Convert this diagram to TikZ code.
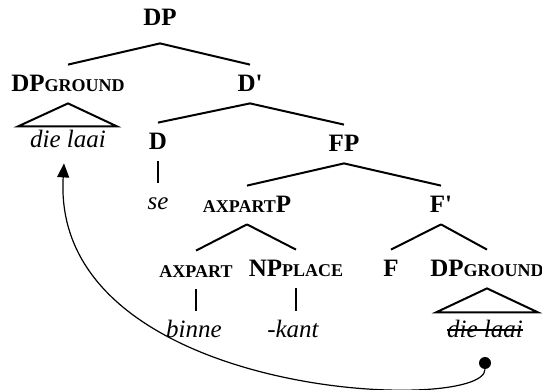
\documentclass[tikz,border=0pt]{standalone}
\usepackage{fontspec}
\setmainfont{Liberation Serif}
\usetikzlibrary{arrows.meta}

\newcommand{\treesize}{\fontsize{12.5}{14}\selectfont}
\newcommand{\smallcap}[1]{{\fontsize{9}{10}\selectfont #1}}

\begin{document}
\begin{tikzpicture}[x=0.5pt, y=-0.5pt,
  cat/.style={font=\treesize\bfseries, inner xsep=0pt, inner ysep=5.5pt,
              text height=8pt, text depth=0pt},
  word/.style={font=\treesize\itshape, inner xsep=0pt, inner ysep=5.5pt,
               text height=8pt, text depth=0pt},
  branch/.style={line width=1pt},
  tracedot/.style={circle, fill, inner sep=0pt, minimum size=6pt}]

\useasboundingbox (0,0) rectangle (542,390);

% ── CATEGORY LABELS ─────────────────────────────────────────────────────
\node[cat] (dp)      at (160, 18) {DP};
\node[cat] (dpg)     at ( 68, 84) {DP\smallcap{GROUND}};
\node[cat] (dbar)    at (250, 84) {D\textquotesingle};
\node[cat] (d)       at (158,142) {D};
\node[cat] (fp)      at (344,144) {FP};
\node[cat] (axpartp) at (247,205) {\smallcap{AXPART}P};
\node[cat] (fbar)    at (441,205) {F\textquotesingle};
\node[cat] (axpart)  at (196,270) {\smallcap{AXPART}};
\node[cat] (npplace) at (296,269) {NP\smallcap{PLACE}};
\node[cat] (f)       at (391,269) {F};
\node[cat] (dpg2)    at (487,269) {DP\smallcap{GROUND}};

% ── WORDS ───────────────────────────────────────────────────────────────
\node[word] (laai)  at ( 68,140) {die laai};
\node[word] (se)    at (158,202) {se};
\node[word] (binne) at (194,330) {binne};
\node[word] (kant)  at (293,330) {-kant};
\node[word] (laai2) at (485,330) {die laai};

% ── BRANCHES ────────────────────────────────────────────────────────────
\draw[branch] ([yshift=-3pt]dp.south) -- (dpg.north);
\draw[branch] ([yshift=-3pt]dp.south) -- (dbar.north);
\draw[branch] (dbar.south) -- (d.north);
\draw[branch] (dbar.south) -- (fp.north);
\draw[branch] (d.south) -- (d.south |- se.north);
\draw[branch] (fp.south) -- (axpartp.north);
\draw[branch] (fp.south) -- (fbar.north);
\draw[branch] (axpartp.south) -- (axpart.north);
\draw[branch] (axpartp.south) -- (npplace.north);
\draw[branch] (fbar.south) -- (f.north);
\draw[branch] (fbar.south) -- (dpg2.north);
\draw[branch] (axpart.south) -- (axpart.south |- binne.north);
\draw[branch] (npplace.south) -- (npplace.south |- kant.north);

% triangles over the phrases
\draw[branch] (dpg.south) -- ++(-50,23) -- ++(99,0) -- cycle;
\draw[branch] (dpg2.south) -- ++(-51,24) -- ++(102,0) -- cycle;

% struck-out copy
\draw[line width=0.6pt] (laai2.west) -- (laai2.east);

% ── MOVEMENT ARROW ──────────────────────────────────────────────────────
\node[tracedot] (trace) at (485,363) {};
\draw[line width=0.6pt, -{Triangle[length=7pt, width=6pt]}]
  (trace) .. controls (485,415) and (50,400) .. ([xshift=-2pt, yshift=-2pt]laai.south);

\end{tikzpicture}
\end{document}
